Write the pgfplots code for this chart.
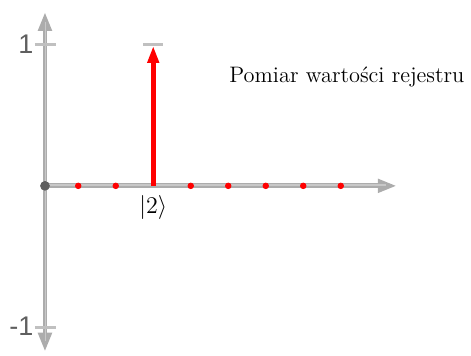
\documentclass[border=0pt]{standalone}
\usepackage{fontspec}
\newfontfamily\arial{Liberation Sans}
\usepackage{pgfplots}
\pgfplotsset{compat=1.18}
\usetikzlibrary{arrows.meta}
\definecolor{axgray}{RGB}{172,172,172}
\definecolor{axlight}{RGB}{200,200,200}
\definecolor{tickgray}{RGB}{192,192,192}
\definecolor{labgray}{RGB}{95,95,95}
\definecolor{ballgray}{RGB}{95,95,95}
\begin{document}
\begin{tikzpicture}
\begin{axis}[width=235.5pt, height=178pt, scale only axis,
  xmin=-1.199, xmax=11.351, ymin=-1.2014, ymax=1.3145,
  hide axis, clip=false]
\addplot[draw=none] coordinates {(-1.199,-1.2014) (11.351,1.3145)};
% y axis
\addplot[axgray, line width=2.4pt, {Triangle[width=6.5pt,length=9.5pt]}-{Triangle[width=6.5pt,length=9.5pt]}] coordinates {(0,-1.173) (0,1.23)};
\addplot[axlight, line width=0.8pt] coordinates {(0.01,-1.10) (0.01,1.16)};
% x axis
\addplot[axgray, line width=2.4pt, -{Triangle[width=6.5pt,length=9.5pt]}] coordinates {(0,0) (9.38,0)};
\addplot[axlight, line width=0.8pt] coordinates {(0,0.004) (9.1,0.004)};
% ticks at +-1
\addplot[tickgray, line width=1.4pt] coordinates {(-0.267,1) (0.293,1)};
\addplot[tickgray, line width=1.4pt] coordinates {(-0.267,-1) (0.293,-1)};
% bar at the top of the red arrow
\addplot[tickgray, line width=1.4pt] coordinates {(2.62,1) (3.15,1)};
% red arrow for state |2>
\addplot[red, line width=2.5pt, -{Triangle[width=5.5pt,length=8.5pt]}] coordinates {(2.887,0) (2.887,0.99)};
% red dots for the other states
\addplot[only marks, mark=*, mark size=1.4pt, red] coordinates {
 (0.887,0) (1.887,0) (3.887,0) (4.887,0) (5.887,0) (6.887,0) (7.887,0)};
% origin ball
\addplot[only marks, mark=*, mark size=2.2pt, ballgray] coordinates {(0,0)};
\node[labgray, anchor=east, inner sep=0pt, font=\arial\fontsize{13.5}{14}\selectfont] at (axis cs:-0.3,1.0) {1};
\node[labgray, anchor=east, inner sep=0pt, font=\arial\fontsize{13.5}{14}\selectfont] at (axis cs:-0.3,-0.996) {-1};
\node[font=\fontsize{12.5}{14}\selectfont] at (axis cs:2.887,-0.15) {$|2\rangle$};
\node[font=\fontsize{11.2}{13}\selectfont] at (axis cs:8.05,0.77) {Pomiar wartości rejestru};
\end{axis}
\end{tikzpicture}
\end{document}
